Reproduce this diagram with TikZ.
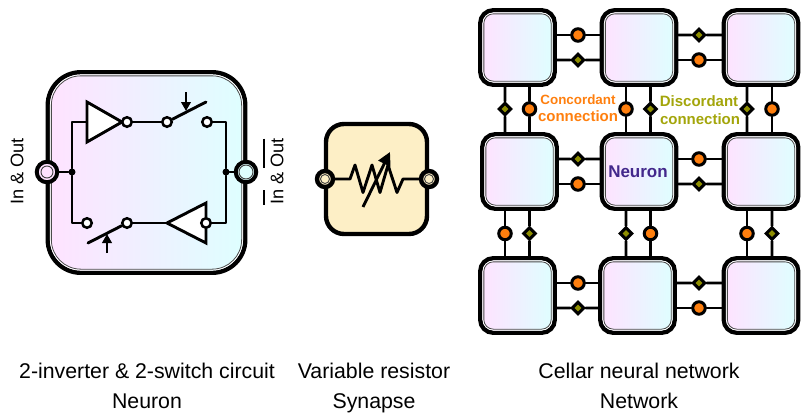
\documentclass[tikz,border=0pt]{standalone}
\usepackage{fontspec}
\setmainfont{Liberation Sans}
\usetikzlibrary{arrows.meta,calc}
\definecolor{pinkL}{HTML}{FFE2FF}
\definecolor{cyanR}{HTML}{DEFFFF}
\definecolor{cream}{HTML}{FDEFC6}
\definecolor{concord}{HTML}{FF7F0E}
\definecolor{discord}{HTML}{A3A50A}
\definecolor{diamondfill}{HTML}{8F8F00}
\definecolor{neuronc}{HTML}{43288C}
\tikzset{
  x=1pt,y=-1pt,
  wire/.style={line width=2.9pt,line cap=round,line join=round},
  cellbox/.style={rectangle,draw=black,line width=4.4pt,rounded corners=13pt,minimum width=74.5pt,minimum height=74.5pt,left color=pinkL,right color=cyanR,inner sep=0pt},
  cellinner/.style={draw=white,line width=1pt,rounded corners=10.5pt},
  cellline/.style={draw=black!70,line width=.8pt,rounded corners=9.5pt},
  contact/.style={circle,draw=black,line width=2.5pt,fill=white,minimum size=9.5pt,inner sep=0pt},
  orangedot/.style={circle,draw=black,line width=3pt,fill=concord,minimum size=12.5pt,inner sep=0pt},
  olivedia/.style={draw=black,line width=3pt,fill=diamondfill,rectangle,rotate=45,minimum size=8.2pt,inner sep=0pt},
  hubdot/.style={circle,fill=black,minimum size=7pt,inner sep=0pt},
  inv/.style={draw=black,line width=2.9pt,fill=white,line join=miter},
  captext/.style={font=\fontsize{21.3}{24}\selectfont,inner sep=0pt,anchor=base},
  arr/.style={line width=2.7pt,-{Triangle[length=9pt,width=9.5pt]}},
  vlabel/.style={rotate=90,font=\fontsize{18.2}{20}\selectfont,inner sep=0pt},
}
\newcommand{\cellnode}[3]{%
  \node[cellbox] (#1) at (#2,#3) {};
  \draw[cellinner] ($(#1.north west)+(4.9pt,-4.9pt)$) rectangle ($(#1.south east)+(-4.9pt,4.9pt)$);
  \draw[cellline] ($(#1.north west)+(5.8pt,-5.8pt)$) rectangle ($(#1.south east)+(-5.8pt,5.8pt)$);
}
\begin{document}
\begin{tikzpicture}
\useasboundingbox (0,0) rectangle (801,413);

% ---------- Neuron ----------
\node[rectangle,draw=black,line width=4.4pt,rounded corners=33pt,minimum width=197.5pt,minimum height=200.5pt,left color=pinkL,right color=cyanR,inner sep=0pt] (nbox) at (146.5,172.5) {};
\draw[draw=white,line width=1pt,rounded corners=30.5pt] ($(nbox.north west)+(4.9pt,-4.9pt)$) rectangle ($(nbox.south east)+(-4.9pt,4.9pt)$);
\draw[draw=black!70,line width=.8pt,rounded corners=29.5pt] ($(nbox.north west)+(5.8pt,-5.8pt)$) rectangle ($(nbox.south east)+(-5.8pt,5.8pt)$);

\node[circle,draw=black,line width=4pt,fill=pinkL,minimum size=20.5pt,inner sep=0pt] (pl) at (47,172) {};
\draw[black!75,line width=.9pt] (47,172) circle[radius=6pt];
\node[circle,draw=black,line width=4pt,fill=cyanR,minimum size=20.5pt,inner sep=0pt] (pr) at (246,172) {};
\draw[black!75,line width=.9pt,fill=cyanR] (246,172) circle[radius=7pt];

\node[hubdot] (hl) at (72,172) {};
\node[hubdot] (hr) at (226,172) {};
\draw[wire] (pl) -- (hl);
\draw[wire] (hr) -- (pr);

% top branch
\coordinate (t1) at (87,122);
\coordinate (ttip) at (122,122);
\draw[wire] (hl) |- (t1);
\draw[inv] (87,102) -- (ttip) -- (87,142) -- cycle;
\node[contact] (tb) at (127,122) {};
\node[contact] (ta) at (167,122) {};
\node[contact] (tc) at (207,122) {};
\draw[wire] (tb) -- (ta);
\draw[wire] (tc) -| (hr);
\coordinate (tarm) at (206,102);
\draw[wire] (ta) -- (tarm);
\coordinate (tarr1) at (186,92);
\coordinate (tarr2) at (186,111);
\draw[arr] (tarr1) -- (tarr2);

% bottom branch
\coordinate (btip) at (167,223);
\draw[inv] (206,203) -- (btip) -- (206,243) -- cycle;
\node[contact] (bb) at (206,223) {};
\node[contact] (ba) at (127,223) {};
\node[contact] (bc) at (87,223) {};
\draw[wire] (hl) |- (bc);
\draw[wire] (ba) -- (btip);
\draw[wire] (bb) -| (hr);
\coordinate (barm) at (88,243);
\draw[wire] (ba) -- (barm);
\coordinate (barr1) at (107,253);
\coordinate (barr2) at (107,234);
\draw[arr] (barr1) -- (barr2);

\node[vlabel] (lin) at (17,171.5) {In \& Out};
\node[vlabel] (lout) at (277,171.5) {In \& Out};
\coordinate (o1) at (264,138.5); \coordinate (o2) at (264,167.5);
\coordinate (o3) at (264,190); \coordinate (o4) at (264,205);
\draw[line width=1.7pt] (o1) -- (o2);
\draw[line width=1.7pt] (o3) -- (o4);

% ---------- Synapse ----------
\node[rectangle,draw=black,line width=4.4pt,rounded corners=18pt,minimum width=101pt,minimum height=110pt,fill=cream,inner sep=0pt] (sbox) at (376.5,179) {};
\node[circle,draw=black,line width=4.4pt,fill=cream,minimum size=16pt,inner sep=0pt] (sl) at (325,179) {};
\draw[black!75,line width=.9pt] (325,179) circle[radius=4.5pt];
\node[circle,draw=black,line width=4.4pt,fill=cream,minimum size=16pt,inner sep=0pt] (sr) at (429,179) {};
\draw[black!75,line width=.9pt] (429,179) circle[radius=4.5pt];
\coordinate (z0) at (350,179);
\coordinate (z1) at (403,179);
\draw[wire] (sl) -- (z0) -- (355,165) -- (363,192.5) -- (372,165) -- (380,192.5) -- (388,165) -- (397,192.5) -- (z1) -- (sr);
\coordinate (ra) at (363,207);
\coordinate (rb) at (390,152);
\draw[line width=2.9pt,-{Triangle[length=13pt,width=13pt]}] (ra) -- (rb);

% ---------- Network ----------
\cellnode{c11}{517.5}{47.5}
\cellnode{c12}{639}{47.5}
\cellnode{c13}{761}{47.5}
\cellnode{c21}{519.5}{171.5}
\cellnode{c22}{639}{171.5}
\cellnode{c23}{761}{171.5}
\cellnode{c31}{517.5}{295.5}
\cellnode{c32}{637.5}{295.5}
\cellnode{c33}{761}{295.5}

% horizontal links: row 1
\node[orangedot] (h1a) at (578,35) {}; \draw[wire] (c11.east |- h1a) -- (h1a) -- (c12.west |- h1a);
\node[olivedia] (h1b) at (578,60) {}; \draw[wire] (c11.east |- h1b) -- (h1b) -- (c12.west |- h1b);
\node[olivedia] (h1c) at (699,35) {}; \draw[wire] (c12.east |- h1c) -- (h1c) -- (c13.west |- h1c);
\node[orangedot] (h1d) at (699,60) {}; \draw[wire] (c12.east |- h1d) -- (h1d) -- (c13.west |- h1d);
% row 2
\node[olivedia] (h2a) at (578,159) {}; \draw[wire] (c21.east |- h2a) -- (h2a) -- (c22.west |- h2a);
\node[orangedot] (h2b) at (578,184) {}; \draw[wire] (c21.east |- h2b) -- (h2b) -- (c22.west |- h2b);
\node[orangedot] (h2c) at (699,159) {}; \draw[wire] (c22.east |- h2c) -- (h2c) -- (c23.west |- h2c);
\node[olivedia] (h2d) at (699,184) {}; \draw[wire] (c22.east |- h2d) -- (h2d) -- (c23.west |- h2d);
% row 3
\node[orangedot] (h3a) at (578,283) {}; \draw[wire] (c31.east |- h3a) -- (h3a) -- (c32.west |- h3a);
\node[olivedia] (h3b) at (578,308) {}; \draw[wire] (c31.east |- h3b) -- (h3b) -- (c32.west |- h3b);
\node[olivedia] (h3c) at (699,283) {}; \draw[wire] (c32.east |- h3c) -- (h3c) -- (c33.west |- h3c);
\node[orangedot] (h3d) at (699,308) {}; \draw[wire] (c32.east |- h3d) -- (h3d) -- (c33.west |- h3d);
% vertical links: gap 1
\node[olivedia] (v1a) at (505,109) {}; \draw[wire] (c11.south -| v1a) -- (v1a) -- (c21.north -| v1a);
\node[orangedot] (v1b) at (529.5,109) {}; \draw[wire] (c11.south -| v1b) -- (v1b) -- (c21.north -| v1b);
\node[orangedot] (v1c) at (626,109) {}; \draw[wire] (c12.south -| v1c) -- (v1c) -- (c22.north -| v1c);
\node[olivedia] (v1d) at (650.5,109) {}; \draw[wire] (c12.south -| v1d) -- (v1d) -- (c22.north -| v1d);
\node[olivedia] (v1e) at (747,109) {}; \draw[wire] (c13.south -| v1e) -- (v1e) -- (c23.north -| v1e);
\node[orangedot] (v1f) at (772,109) {}; \draw[wire] (c13.south -| v1f) -- (v1f) -- (c23.north -| v1f);
% gap 2
\node[orangedot] (v2a) at (505,233.5) {}; \draw[wire] (c21.south -| v2a) -- (v2a) -- (c31.north -| v2a);
\node[olivedia] (v2b) at (529.5,233.5) {}; \draw[wire] (c21.south -| v2b) -- (v2b) -- (c31.north -| v2b);
\node[olivedia] (v2c) at (626,233.5) {}; \draw[wire] (c22.south -| v2c) -- (v2c) -- (c32.north -| v2c);
\node[orangedot] (v2d) at (650.5,233.5) {}; \draw[wire] (c22.south -| v2d) -- (v2d) -- (c32.north -| v2d);
\node[orangedot] (v2e) at (747,233.5) {}; \draw[wire] (c23.south -| v2e) -- (v2e) -- (c33.north -| v2e);
\node[olivedia] (v2f) at (772,233.5) {}; \draw[wire] (c23.south -| v2f) -- (v2f) -- (c33.north -| v2f);

\node[font=\fontsize{17}{18}\selectfont\bfseries,text=neuronc,inner sep=0pt] (nlabel) at (638,172) {Neuron};
\node[font=\fontsize{13.4}{15}\selectfont\bfseries,text=concord,inner sep=0pt] (cl1) at (578,100) {Concordant};
\node[font=\fontsize{15}{15}\selectfont\bfseries,text=concord,inner sep=0pt] (cl2) at (578,116.5) {connection};
\node[font=\fontsize{15}{15}\selectfont\bfseries,text=discord,inner sep=0pt] (dl1) at (699,101) {Discordant};
\node[font=\fontsize{15}{15}\selectfont\bfseries,text=discord,inner sep=0pt] (dl2) at (700,119) {connection};

% ---------- Captions ----------
\node[captext] (a1) at (147,378) {2-inverter \& 2-switch circuit};
\node[captext] (a2) at (147,408) {Neuron};
\node[captext] (b1) at (374,378) {Variable resistor};
\node[captext] (b2) at (374,408) {Synapse};
\node[captext] (c1) at (639,378) {Cellar neural network};
\node[captext] (c2) at (639,408) {Network};
\end{tikzpicture}
\end{document}
